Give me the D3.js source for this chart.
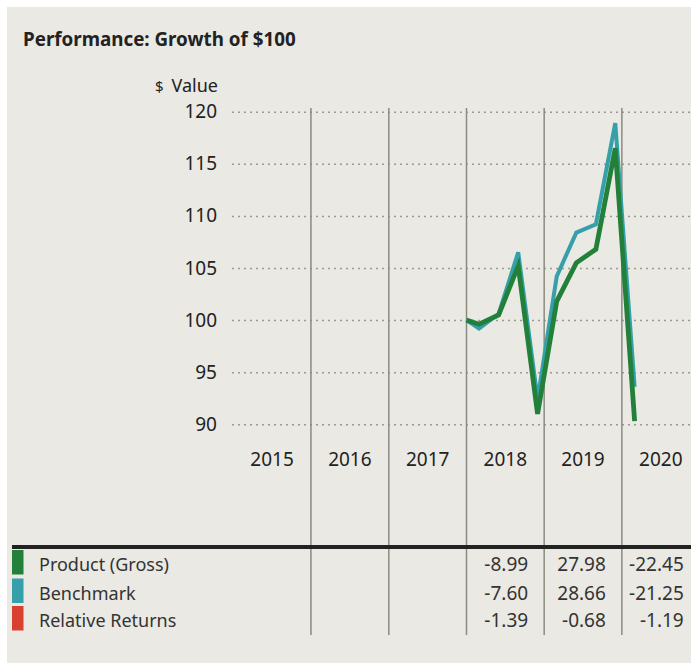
<!DOCTYPE html>
<html>
<head>
<meta charset="utf-8">
<script src="https://cdn.jsdelivr.net/npm/d3@7"></script>
<style>
  body { margin: 0; background: #fff; }
  svg { display: block; font-family: "Noto Sans", sans-serif; }
  .grid line { stroke: #9b9a90; stroke-width: 1.5; stroke-dasharray: 2,4; }
  .grid text { fill: #222; font-size: 19px; }
</style>
</head>
<body>
<script>
// data
const years = [2015, 2016, 2017, 2018, 2019, 2020];
const valueTicks = [90, 95, 100, 105, 110, 115, 120];
const dates = ["2018-01-01", "2018-03-01", "2018-06-01", "2018-09-01", "2018-12-01",
  "2019-03-01", "2019-06-01", "2019-09-01", "2019-12-01", "2020-03-01"];
const product = [100, 99.6, 100.5, 105.2, 91.0, 101.8, 105.5, 106.8, 116.5, 90.3];
const benchmark = [100, 99.2, 100.6, 106.5, 92.4, 104.2, 108.4, 109.2, 118.9, 93.6];

const rowLabels = ["Product (Gross)", "Benchmark", "Relative Returns"];
const rowColors = ["#23803a", "#35a0aa", "#d8412f"];
const productReturns = [null, null, null, "-8.99", "27.98", "-22.45"];
const benchmarkReturns = [null, null, null, "-7.60", "28.66", "-21.25"];
const relativeReturns = [null, null, null, "-1.39", "-0.68", "-1.19"];
const tableRows = [productReturns, benchmarkReturns, relativeReturns];

const W = 691, H = 665;
const parse = d3.timeParse("%Y-%m-%d");

const svg = d3.select("body").append("svg").attr("width", W).attr("height", H);

svg.append("rect")
  .attr("x", 7).attr("y", 7)
  .attr("width", W - 7).attr("height", 656)
  .attr("fill", "#eae9e3");

const x = d3.scaleTime()
  .domain([new Date(2015, 0, 1), new Date(2021, 0, 1)])
  .range([233.25, 699.75]);
const y = d3.scaleLinear().domain([90, 120]).range([424.3, 111.7]);

// title
svg.append("text")
  .attr("x", 23).attr("y", 46)
  .attr("font-size", 18.8).attr("font-weight", 700).attr("fill", "#222")
  .text("Performance: Growth of $100");

const unit = svg.append("text")
  .attr("x", 218).attr("y", 92)
  .attr("text-anchor", "end").attr("fill", "#222").attr("font-size", 18);
unit.append("tspan").attr("font-size", 15).text("$");
unit.append("tspan").attr("dx", 8).text("Value");

// dotted gridlines + value labels
const grid = svg.append("g")
  .attr("class", "grid")
  .attr("transform", "translate(232,0)")
  .call(d3.axisLeft(y).tickValues(valueTicks).tickSize(-(W - 232)).tickPadding(15));
grid.select(".domain").remove();
grid.selectAll("text").attr("font-family", "Noto Sans");

// year columns
svg.append("g").selectAll("line")
  .data(years.slice(1))
  .join("line")
  .attr("x1", d => x(new Date(d, 0, 1)))
  .attr("x2", d => x(new Date(d, 0, 1)))
  .attr("y1", 108).attr("y2", 635)
  .attr("stroke", "#8c8b80").attr("stroke-width", 1.5);

svg.append("g").selectAll("text")
  .data(years)
  .join("text")
  .attr("x", d => (x(new Date(d, 0, 1)) + x(new Date(d + 1, 0, 1))) / 2)
  .attr("y", 466)
  .attr("text-anchor", "middle")
  .attr("font-size", 19).attr("fill", "#222")
  .text(d => d);

// lines
const line = d3.line()
  .x((d, i) => x(parse(dates[i])))
  .y(d => y(d));

svg.append("path")
  .datum(benchmark)
  .attr("fill", "none")
  .attr("stroke", rowColors[1])
  .attr("stroke-width", 4)
  .attr("d", line);

svg.append("path")
  .datum(product)
  .attr("fill", "none")
  .attr("stroke", rowColors[0])
  .attr("stroke-width", 4.8)
  .attr("d", line);

// table
svg.append("rect")
  .attr("x", 12).attr("y", 545)
  .attr("width", W - 12).attr("height", 4)
  .attr("fill", "#222");

const rowY = [571, 599.5, 627];

const rows = svg.append("g").selectAll("g")
  .data(rowLabels)
  .join("g");

rows.append("rect")
  .attr("x", 12).attr("width", 11.5)
  .attr("y", (d, i) => rowY[i] - 21).attr("height", 24.5)
  .attr("fill", (d, i) => rowColors[i]);

rows.append("text")
  .attr("x", 39).attr("y", (d, i) => rowY[i])
  .attr("font-size", 18).attr("fill", "#333")
  .text(d => d);

tableRows.forEach((vals, r) => {
  svg.append("g").selectAll("text")
    .data(years.filter((yr, i) => vals[i] !== null))
    .join("text")
    .attr("x", d => x(new Date(d + 1, 0, 1)) - 16)
    .attr("y", rowY[r])
    .attr("text-anchor", "end")
    .attr("font-size", 19).attr("fill", "#333")
    .text(d => vals[years.indexOf(d)]);
});
</script>
</body>
</html>
